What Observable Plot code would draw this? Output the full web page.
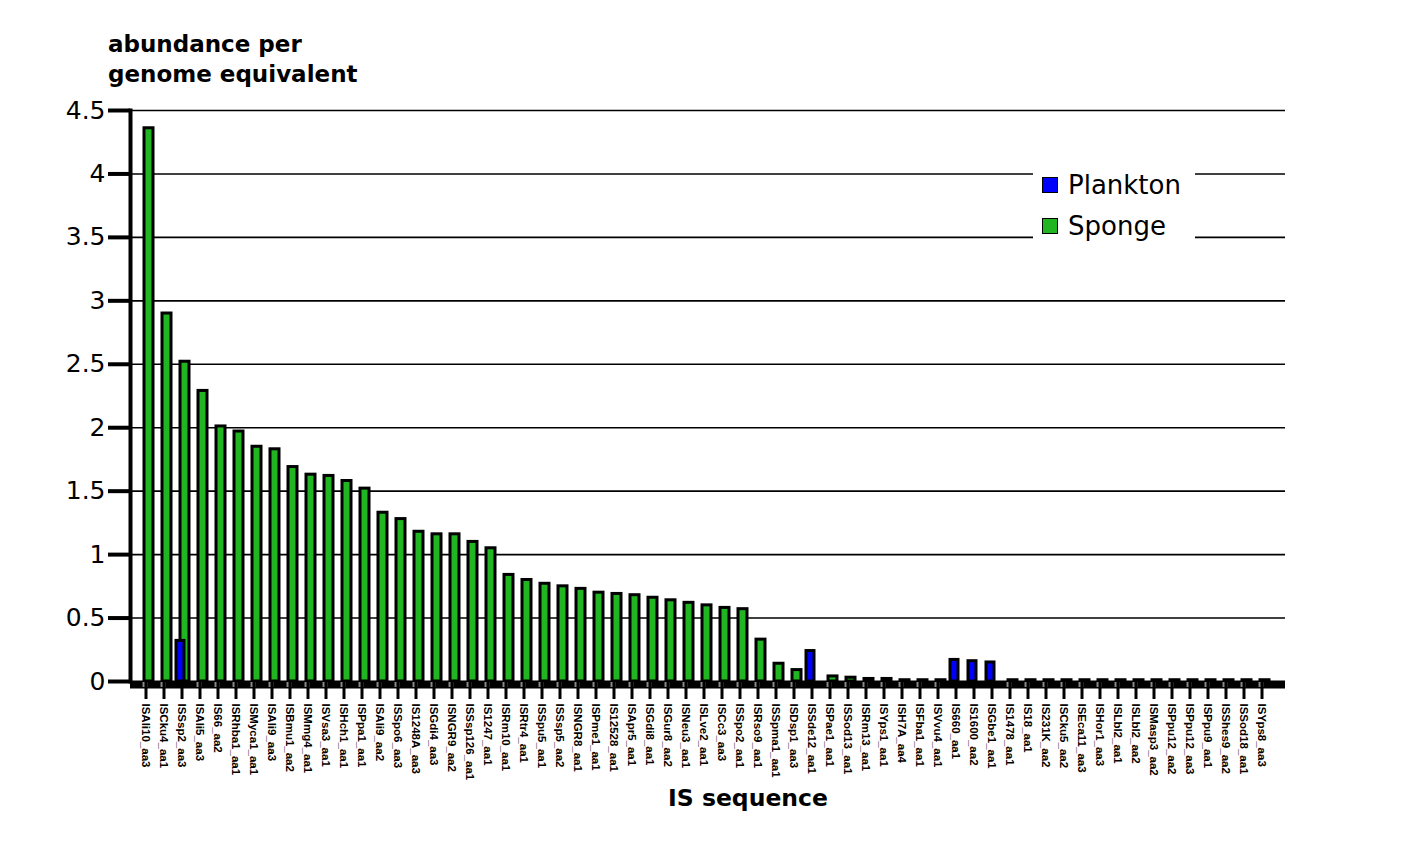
<!DOCTYPE html>
<html>
<head>
<meta charset="utf-8">
<script src="https://cdn.jsdelivr.net/npm/d3@7"></script>
<script src="https://cdn.jsdelivr.net/npm/@observablehq/plot@0.6"></script>
<style>
  html, body { margin: 0; padding: 0; background: white; }
  #wrap { position: relative; width: 1417px; height: 843px; overflow: hidden; font-family: "DejaVu Sans", sans-serif; }
  #wrap svg { position: absolute; left: 0; top: 0; }
  .ylabel { position: absolute; left: 108px; top: 29px; font-size: 23px; line-height: 30px; font-weight: bold; color: #000; }
  .xlabel { position: absolute; left: 648px; width: 200px; top: 786px; text-align: center; font-size: 23.5px; line-height: 24px; font-weight: bold; color: #000; }
  .legend { position: absolute; left: 1033px; top: 163px; width: 162px; height: 80px; background: white; }
  .legend .row { position: absolute; left: 9px; height: 30px; display: flex; align-items: center; font-size: 26px; }
  .legend .sw { width: 14px; height: 14px; border: 1.5px solid #000; margin-right: 10px; }
</style>
</head>
<body>
<div id="wrap">
  <div class="ylabel">abundance per<br>genome equivalent</div>
  <div class="xlabel">IS sequence</div>
  <div class="legend" id="legend"></div>
</div>
<script>
const categories = [
  "ISAli10_aa3","ISCku4_aa1","ISSsp2_aa3","ISAli5_aa3","IS66_aa2","ISRhba1_aa1","ISMyca1_aa1",
  "ISAli9_aa3","ISBmu1_aa2","ISMmg4_aa1","ISVsa3_aa1","ISHch1_aa1","ISPpa1_aa1","ISAli9_aa2",
  "ISSpo6_aa3","IS1248A_aa3","ISGdi4_aa3","ISNGR9_aa2","ISSsp126_aa1","IS1247_aa1","ISRm10_aa1",
  "ISRtr4_aa1","ISSpu5_aa1","ISSsp5_aa2","ISNGR8_aa1","ISPme1_aa1","IS12528_aa1","ISApr5_aa1",
  "ISGdi8_aa1","ISGur8_aa2","ISNeu3_aa1","ISLve2_aa1","ISCc3_aa3","ISSpo2_aa1","ISRso9_aa1",
  "ISSpma1_aa1","ISDsp1_aa3","ISSde12_aa1","ISPae1_aa1","ISSod13_aa1","ISRm13_aa1","ISYps1_aa1",
  "ISH7A_aa4","ISFba1_aa1","ISVvu4_aa1","IS660_aa1","IS1600_aa2","ISGbe1_aa1","IS1478_aa1",
  "IS18_aa1","IS231K_aa2","ISCku5_aa2","ISEca11_aa3","ISHor1_aa3","ISLbl2_aa1","ISLbl2_aa2",
  "ISMasp3_aa2","ISPpu12_aa2","ISPpu12_aa3","ISPpu9_aa1","ISShes9_aa2","ISSod18_aa1","ISYps8_aa3"
];
const sponge = [
  4.36, 2.90, 2.52, 2.29, 2.01, 1.97, 1.85,
  1.83, 1.69, 1.63, 1.62, 1.58, 1.52, 1.33,
  1.28, 1.18, 1.16, 1.16, 1.10, 1.05, 0.84,
  0.80, 0.77, 0.75, 0.73, 0.70, 0.69, 0.68,
  0.66, 0.64, 0.62, 0.60, 0.58, 0.57, 0.33,
  0.14, 0.09, 0, 0.04, 0.03, 0.02, 0.02,
  0.01, 0.01, 0.01, 0, 0, 0, 0.01,
  0.01, 0.01, 0.01, 0.01, 0.01, 0.01, 0.01,
  0.01, 0.01, 0.01, 0.01, 0.01, 0.01, 0.01
];
const plankton = [
  0, 0, 0.32, 0, 0, 0, 0,
  0, 0, 0, 0, 0, 0, 0,
  0, 0, 0, 0, 0, 0, 0,
  0, 0, 0, 0, 0, 0, 0,
  0, 0, 0, 0, 0, 0, 0,
  0, 0, 0.24, 0, 0, 0, 0,
  0, 0, 0, 0.17, 0.16, 0.15, 0,
  0, 0, 0, 0, 0, 0, 0,
  0, 0, 0, 0, 0, 0, 0
];
const yTicks = [0, 0.5, 1, 1.5, 2, 2.5, 3, 3.5, 4, 4.5];
const seriesNames = ["Plankton", "Sponge"];
const seriesColors = ["#0000ff", "#22b522"];

const data = categories.map((c, i) => ({category: c, sponge: sponge[i], plankton: plankton[i]}));

const chart = Plot.plot({
  width: 1417,
  height: 843,
  marginTop: 110,
  marginBottom: 162,
  marginLeft: 130,
  marginRight: 140,
  style: {fontFamily: "DejaVu Sans, sans-serif", background: "transparent", overflow: "visible", color: "black"},
  x: {domain: categories, paddingInner: 0.3, paddingOuter: 0.5, label: null},
  y: {domain: [0, 4.5], label: null},
  marks: [
    Plot.ruleY(yTicks.filter(d => d > 0), {stroke: "black", strokeWidth: 1.6, insetRight: -8}),
    Plot.barY(data.filter(d => d.sponge > 0), {x: "category", y: "sponge", fill: seriesColors[1], stroke: "black", strokeWidth: 3, insetLeft: 2, insetRight: 2, dx: 3}),
    Plot.barY(data.filter(d => d.plankton > 0), {x: "category", y: "plankton", fill: seriesColors[0], stroke: "black", strokeWidth: 3, insetLeft: 2, insetRight: 3, dx: -1}),
    Plot.ruleY([0], {stroke: "black", strokeWidth: 8, insetRight: -8, dy: 3}),
    Plot.dot(data.filter(d => d.plankton === 0), {x: "category", y: 0, symbol: "square", r: 2.8, fill: "#8a8a8a", stroke: null, dy: 3, dx: -1}),
    Plot.axisY({ticks: yTicks, tickSize: 22, tickPadding: 3, fontSize: 25, strokeWidth: 4, tickFormat: d => String(d), label: null}),
    Plot.frame({anchor: "left", stroke: "black", strokeWidth: 4}),
    Plot.axisX({tickSize: 18, tickPadding: 4, tickRotate: 90, fontSize: 11.5, fontWeight: "bold", fontFamily: "Liberation Sans, Arial, sans-serif", strokeWidth: 3, label: null})
  ]
});
document.getElementById("wrap").prepend(chart);

const legend = document.getElementById("legend");
seriesNames.forEach((name, i) => {
  const row = document.createElement("div");
  row.className = "row";
  row.style.top = (7 + i * 41) + "px";
  const sw = document.createElement("div");
  sw.className = "sw";
  sw.style.background = seriesColors[i];
  const t = document.createElement("span");
  t.textContent = name;
  row.appendChild(sw);
  row.appendChild(t);
  legend.appendChild(row);
});
</script>
</body>
</html>
